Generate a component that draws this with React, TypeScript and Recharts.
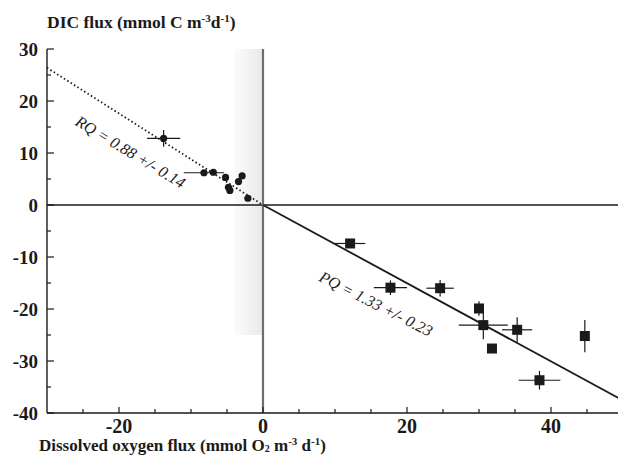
import React from 'react';
import {
  ScatterChart, Scatter, XAxis, YAxis, ErrorBar, ReferenceLine, ReferenceArea, ReferenceDot,
} from 'recharts';

// respiration (RQ) points, left of zero
const rqX = [-13.8, -8.2, -6.9, -5.2, -4.8, -4.6, -3.4, -2.9, -2.1];
const rqY = [12.8, 6.2, 6.3, 5.3, 3.4, 2.8, 4.5, 5.6, 1.3];
const rqXErr = [2.3, 2.8, 0, 0, 0, 0, 0, 0, 0];
const rqYErr = [1.6, 0, 0, 0, 0, 0, 0, 0, 0];

// production (PQ) points
const pqX = [12.1, 17.7, 24.6, 30.0, 30.6, 31.8, 35.3, 38.4, 44.7];
const pqY = [-7.4, -15.9, -16.0, -19.9, -23.1, -27.6, -24.0, -33.7, -25.2];
const pqXErr = [2.1, 2.3, 1.9, 0, 3.4, 0, 2.1, 2.9, 0];
const pqYErr = [0, 1.4, 1.6, 1.4, 2.7, 0, 2.4, 1.8, 3.1];

// fitted lines (end points)
const rqLine = [{ x: -30, y: 26.4 }, { x: 0, y: 0 }];
const pqLine = [{ x: 0, y: 0 }, { x: 50, y: -37.6 }];

const xTicks = [-30, -25, -20, -15, -10, -5, 0, 5, 10, 15, 20, 25, 30, 35, 40, 45, 50];
const yTicks = [-40, -35, -30, -25, -20, -15, -10, -5, 0, 5, 10, 15, 20, 25, 30];

const rqData = rqX.map((x, i) => ({ x, y: rqY[i], ex: rqXErr[i], ey: rqYErr[i] }));
const pqData = pqX.map((x, i) => ({ x, y: pqY[i], ex: pqXErr[i], ey: pqYErr[i] }));

const serif = '"Liberation Serif", "DejaVu Serif", serif';
const ink = '#1a1a1a';

const YTick = (props: any) => {
  const { x, y, payload } = props;
  const v = payload.value;
  const major = v % 10 === 0;
  return (
    <g>
      <line x1={x} x2={x + (major ? 7 : 4)} y1={y} y2={y} stroke={ink} strokeWidth={1.2} />
      {major && (
        <text x={x - 9} y={y} dy={7} textAnchor="end" fontFamily={serif} fontWeight="bold" fontSize={19} fill={ink}>
          {v}
        </text>
      )}
    </g>
  );
};

const XTick = (props: any) => {
  const { x, y, payload } = props;
  const v = payload.value;
  const major = v % 20 === 0 && v > -30;
  if (v === -30) return <g />;
  return (
    <g>
      <line x1={x} x2={x} y1={y} y2={y - (major ? 6 : 4)} stroke={ink} strokeWidth={1.2} />
      {major && (
        <text x={x} y={y} dy={20} textAnchor="middle" fontFamily={serif} fontWeight="bold" fontSize={20} fill={ink}>
          {v}
        </text>
      )}
    </g>
  );
};

const RqDot = (p: any) => <circle cx={p.cx} cy={p.cy} r={3.6} fill={ink} />;
const PqDot = (p: any) => <rect x={p.cx - 5} y={p.cy - 5} width={10} height={10} fill={ink} />;

const slantLabel = (text: string, angle: number) => (p: any) => (
  <text
    x={p.cx}
    y={p.cy}
    transform={`rotate(${angle} ${p.cx} ${p.cy})`}
    textAnchor="middle"
    dominantBaseline="central"
    fontFamily={serif}
    fontStyle="italic"
    fontSize={16}
    fill={ink}
  >
    {text}
  </text>
);

const supStyle: React.CSSProperties = { fontSize: 11, position: 'relative', top: -6 };
const subStyle: React.CSSProperties = { fontSize: 10, position: 'relative', top: 1 };

export default function App() {
  return (
    <div style={{ position: 'absolute', left: 0, top: 0, width: 618, height: 455, overflow: 'hidden', background: '#fff' }}>
      <ScatterChart width={623} height={455} margin={{ top: 49, right: 0, bottom: 0, left: 0 }}>
        <defs>
          <linearGradient id="band" x1="0" y1="0" x2="1" y2="0">
            <stop offset="0%" stopColor="#fbfbfb" />
            <stop offset="100%" stopColor="#e9e9e9" />
          </linearGradient>
        </defs>
        <XAxis
          type="number"
          dataKey="x"
          domain={[-30, 50]}
          ticks={xTicks}
          height={42}
          tickSize={0}
          tickMargin={0}
          tickLine={false}
          axisLine={{ stroke: ink, strokeWidth: 1.4 }}
          tick={<XTick />}
          interval={0}
          allowDataOverflow
        />
        <YAxis
          type="number"
          dataKey="y"
          domain={[-40, 30]}
          ticks={yTicks}
          width={47}
          tickSize={0}
          tickMargin={0}
          tickLine={false}
          axisLine={{ stroke: ink, strokeWidth: 1.4 }}
          tick={<YTick />}
          interval={0}
          allowDataOverflow
        />
        <ReferenceArea x1={-4} x2={0} y1={-25} y2={30} fill="url(#band)" fillOpacity={1} stroke="none" />
        <ReferenceLine y={0} stroke={ink} strokeWidth={1.4} />
        <ReferenceLine x={0} stroke="#6e6e6e" strokeWidth={2.2} />
        <ReferenceLine segment={rqLine} stroke={ink} strokeWidth={1.8} strokeDasharray="1.5 2.5" />
        <ReferenceLine segment={pqLine} stroke={ink} strokeWidth={1.8} />
        <Scatter data={rqData} shape={<RqDot />} isAnimationActive={false}>
          <ErrorBar dataKey="ex" direction="x" width={0} stroke={ink} strokeWidth={1.2} />
          <ErrorBar dataKey="ey" direction="y" width={0} stroke={ink} strokeWidth={1.2} />
        </Scatter>
        <Scatter data={pqData} shape={<PqDot />} isAnimationActive={false}>
          <ErrorBar dataKey="ex" direction="x" width={0} stroke={ink} strokeWidth={1.2} />
          <ErrorBar dataKey="ey" direction="y" width={0} stroke={ink} strokeWidth={1.2} />
        </Scatter>
        <ReferenceDot x={-18.4} y={10.2} r={0} shape={slantLabel('RQ = 0.88 +/- 0.14', 31)} />
        <ReferenceDot x={15.7} y={-19.0} r={0} shape={slantLabel('PQ = 1.33 +/- 0.23', 27)} />
      </ScatterChart>
      <div style={{ position: 'absolute', left: 47, top: 12, fontFamily: serif, fontWeight: 'bold', fontSize: 17.5, lineHeight: '20px', color: ink, whiteSpace: 'nowrap' }}>
        DIC flux (mmol C m<span style={supStyle}>-3</span>d<span style={supStyle}>-1</span>)
      </div>
      <div style={{ position: 'absolute', left: 39, top: 438, fontFamily: serif, fontWeight: 'bold', fontSize: 17, lineHeight: '16px', color: ink, whiteSpace: 'nowrap' }}>
        Dissolved oxygen flux (mmol O<span style={subStyle}>2</span> m<span style={supStyle}>-3</span> d<span style={supStyle}>-1</span>)
      </div>
    </div>
  );
}
